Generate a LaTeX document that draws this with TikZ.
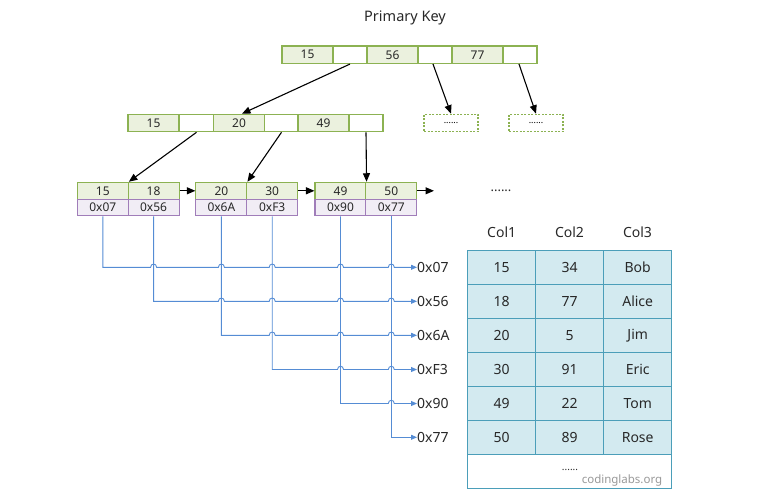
\documentclass[tikz,border=0pt]{standalone}
\usepackage{fontspec}
\setmainfont{Noto Sans}
\usetikzlibrary{arrows.meta}
\definecolor{gline}{RGB}{140,178,82}
\definecolor{gfill}{RGB}{235,241,222}
\definecolor{pline}{RGB}{160,125,185}
\definecolor{pfill}{RGB}{241,237,245}
\definecolor{tline}{RGB}{75,158,185}
\definecolor{tfill}{RGB}{211,234,240}
\definecolor{bline}{RGB}{85,140,212}
\definecolor{txt}{RGB}{40,40,40}
\begin{document}
\begin{tikzpicture}[x=1pt,y=-1pt,
  cellbase/.style={draw, line width=1.1pt, inner sep=0pt, text=txt, font=\fontsize{12}{13}\selectfont},
  keycell/.style={cellbase, draw=gline, fill=gfill, minimum width=51pt, minimum height=17.5pt},
  ptrcell/.style={cellbase, draw=gline, fill=white, minimum width=34pt, minimum height=17.5pt},
  leafkey/.style={cellbase, draw=gline, fill=gfill, minimum width=51pt, minimum height=17pt},
  leafaddr/.style={cellbase, draw=pline, fill=pfill, minimum width=51pt, minimum height=16.5pt},
  dashbox/.style={draw=gline, line width=1.1pt, dash pattern=on 2pt off 1.5pt, fill=white, minimum width=54pt, minimum height=17.5pt, inner sep=0pt, font=\fontsize{9}{10}\selectfont},
  tcell/.style={draw=tline, line width=1.4pt, fill=tfill, minimum width=68pt, minimum height=34pt, inner sep=0pt, text=txt, font=\fontsize{14}{16}\selectfont},
  hdr/.style={text=txt, font=\fontsize{14}{16}\selectfont},
  addr/.style={anchor=west, inner sep=0pt, text=txt, font=\fontsize{14}{16}\selectfont},
  treearrow/.style={line width=1.1pt, -{Triangle[length=8.5pt,width=7pt]}},
  bluelink/.style={draw=bline, line width=0.9pt, -{Triangle[length=6pt,width=5pt]}}
]
\useasboundingbox (0,0) rectangle (765,495);

\node[hdr, font=\fontsize{14.5}{16}\selectfont] (title) at (405,18) {Primary Key};

% root row
\node[keycell] (r1a) at (307.5,54.75) {15};
\node[ptrcell] (r1b) at (350,54.75) {};
\node[keycell] (r1c) at (392.5,54.75) {56};
\node[ptrcell] (r1d) at (435,54.75) {};
\node[keycell] (r1e) at (477.5,54.75) {77};
\node[ptrcell] (r1f) at (520,54.75) {};

% second row
\node[keycell] (r2a) at (153.5,123) {15};
\node[ptrcell] (r2b) at (196.5,123) {};
\node[keycell] (r2c) at (239,123) {20};
\node[ptrcell] (r2d) at (281.5,123) {};
\node[keycell] (r2e) at (323.5,123) {49};
\node[ptrcell] (r2f) at (366,123) {};

\node[dashbox] (d1) at (451,123) {......};
\node[dashbox] (d2) at (536,123) {......};

% leaves
\node[leafkey] (l1a) at (102.8,190.8) {15};
\node[leafkey] (l1b) at (153.6,190.8) {18};
\node[leafaddr] (m1) at (102.8,207.5) {0x07};
\node[leafaddr] (m2) at (153.6,207.5) {0x56};

\node[leafkey] (l2a) at (221.4,190.8) {20};
\node[leafkey] (l2b) at (272.2,190.8) {30};
\node[leafaddr] (m3) at (221.4,207.5) {0x6A};
\node[leafaddr] (m4) at (272.2,207.5) {0xF3};

\node[leafkey] (l3a) at (340.5,190.8) {49};
\node[leafkey] (l3b) at (391.3,190.8) {50};
\node[leafaddr] (m5) at (340.5,207.5) {0x90};
\node[leafaddr] (m6) at (391.3,207.5) {0x77};

\coordinate (lend) at (434,190.8);

% tree arrows
\draw[treearrow] (r1b.south) -- ([xshift=3pt]r2c.north);
\draw[treearrow] ([xshift=-2pt]r1d.south) -- (d1.north);
\draw[treearrow] ([xshift=-1pt]r1f.south) -- (d2.north);
\draw[treearrow] (r2b.south) -- (l1a.north east);
\draw[treearrow] (r2d.south) -- (l2a.north east);
\draw[treearrow] (r2f.south) -- (l3a.north east);
\draw[treearrow] (l1b.east) -- (l2a.west);
\draw[treearrow] (l2b.east) -- (l3a.west);
\draw[treearrow] (l3b.east) -- (lend);

\node[text=txt, font=\bfseries\fontsize{13}{14}\selectfont] (dots) at (501,191) {......};

% address labels
\node[addr] (a1) at (417,267.3) {0x07};
\node[addr] (a2) at (417,301.3) {0x56};
\node[addr] (a3) at (417,335.3) {0x6A};
\node[addr] (a4) at (417,369.5) {0xF3};
\node[addr] (a5) at (417,403.5) {0x90};
\node[addr] (a6) at (417,437.3) {0x77};

% blue links with hops
\draw[bluelink] (m1.south) -- (102.8,267.3)
  \foreach \h in {153.6,221.4,272.2,340.5,391.3} { -- (\h-3,267.3) .. controls (\h-3,263) and (\h+3,263) .. (\h+3,267.3) }
  -- (a1.west);
\draw[bluelink] (m2.south) -- (153.6,301.3)
  \foreach \h in {221.4,272.2,340.5,391.3} { -- (\h-3,301.3) .. controls (\h-3,297) and (\h+3,297) .. (\h+3,301.3) }
  -- (a2.west);
\draw[bluelink] (m3.south) -- (221.4,335.3)
  \foreach \h in {272.2,340.5,391.3} { -- (\h-3,335.3) .. controls (\h-3,331) and (\h+3,331) .. (\h+3,335.3) }
  -- (a3.west);
\draw[bluelink] (m4.south) -- (272.2,369.5)
  \foreach \h in {340.5,391.3} { -- (\h-3,369.5) .. controls (\h-3,365.2) and (\h+3,365.2) .. (\h+3,369.5) }
  -- (a4.west);
\draw[bluelink] (m5.south) -- (340.5,403.5)
  \foreach \h in {391.3} { -- (\h-3,403.5) .. controls (\h-3,399.2) and (\h+3,399.2) .. (\h+3,403.5) }
  -- (a5.west);
\draw[bluelink] (m6.south) |- (a6.west);

% table headers
\node[hdr] (h1) at (501.7,232) {Col1};
\node[hdr] (h2) at (569.5,232) {Col2};
\node[hdr] (h3) at (637.5,232) {Col3};

% table
\foreach \r/\y/\a/\b/\c in {1/267.2/15/34/Bob,2/301.3/18/77/Alice,3/335.3/20/5/Jim,4/369.5/30/91/Eric,5/403.6/49/22/Tom,6/437.5/50/89/Rose}{
  \node[tcell] (t\r a) at (501.7,\y) {\a};
  \node[tcell] (t\r b) at (569.7,\y) {\b};
  \node[tcell] (t\r c) at (637.7,\y) {\c};
}
\node[tcell, fill=white, minimum width=204pt] (tlast) at (569.7,471.4) {};
\node[text=txt, font=\fontsize{10}{11}\selectfont] (tdots) at (570,469.5) {......};
\node[text=gray!80, font=\fontsize{11.5}{13}\selectfont] (wm) at (622,481) {codinglabs.org};
\end{tikzpicture}
\end{document}
